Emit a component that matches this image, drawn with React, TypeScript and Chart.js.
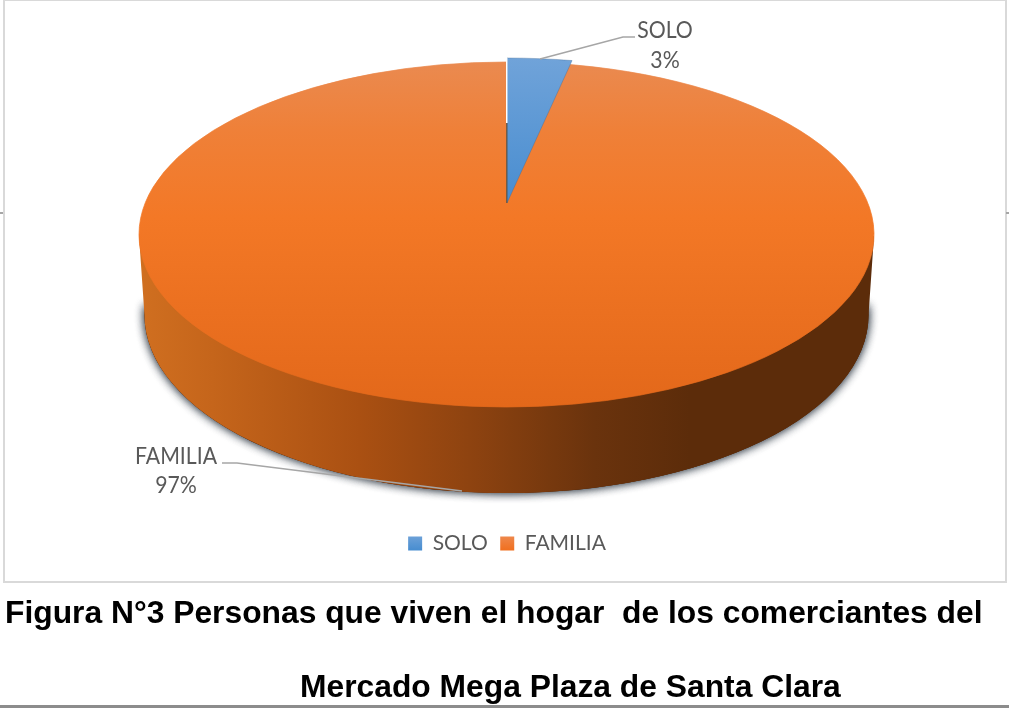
import React, { useEffect, useRef } from "react";
import { Chart, registerables } from "chart.js";

Chart.register(...registerables);

const categories = ["SOLO", "FAMILIA"];
const shares = [3, 97];
const baseColors = ["#5b9bd5", "#ed7d31"];
const titleLines = [
  "Figura N°3 Personas que viven el hogar  de los comerciantes del",
  "Mercado Mega Plaza de Santa Clara",
];

const FONT = "Lato, 'Noto Sans', sans-serif";
const TEXT = "#595959";
const R = 367.5;

const pieStage = {
  id: "pieStage",
  beforeDraw(chart: any) {
    const { ctx } = chart;
    ctx.save();
    ctx.strokeStyle = "#d9d9d9";
    ctx.lineWidth = 2;
    ctx.strokeRect(4, 0, 1002, 582);
    ctx.fillStyle = "#a6a6a6";
    ctx.fillRect(0, 212, 3, 2);
    ctx.fillRect(1006, 212, 3, 2);
    ctx.fillStyle = "#8c8c8c";
    ctx.fillRect(0, 705, 1009, 3);
    ctx.restore();
  },
  beforeDatasetsDraw(chart: any) {
    const { ctx } = chart;
    const meta = chart.getDatasetMeta(0);
    const [blue, orange] = meta.data;
    const ex = orange.x;
    const ey = orange.y;

    // Extruded side wall and its soft shadow
    ctx.save();
    const wallGrad = ctx.createLinearGradient(139, 0, 874, 0);
    wallGrad.addColorStop(0, "#d06f20");
    wallGrad.addColorStop(0.1, "#c5651b");
    wallGrad.addColorStop(0.3, "#aa5012");
    wallGrad.addColorStop(0.45, "#8e4310");
    wallGrad.addColorStop(0.62, "#6a330d");
    wallGrad.addColorStop(0.75, "#5c2c0a");
    wallGrad.addColorStop(1, "#5c2c0a");
    for (let i = 0; i < 2; i++) {
      ctx.save();
      ctx.shadowColor = "rgba(55,65,75,0.85)";
      ctx.shadowBlur = 10;
      ctx.fillStyle = "#5c2c0a";
      ctx.beginPath();
      ctx.ellipse(506.5, 315, 362, 178, 0, -0.05, Math.PI + 0.05);
      ctx.closePath();
      ctx.fill();
      ctx.restore();
    }
    ctx.fillStyle = wallGrad;
    ctx.beginPath();
    ctx.moveTo(874, 236);
    ctx.lineTo(868.5, 315);
    ctx.ellipse(506.5, 315, 362, 178, 0, 0, Math.PI);
    ctx.lineTo(139, 236);
    ctx.closePath();
    ctx.fill();
    ctx.restore();

    // Top face: every slice painted in the orange gradient, squashed to an ellipse
    const topGrad = ctx.createLinearGradient(0, ey - R, 0, ey + R);
    topGrad.addColorStop(0, "#ea8a50");
    topGrad.addColorStop(0.2, "#ef8038");
    topGrad.addColorStop(0.45, "#f37826");
    topGrad.addColorStop(1, "#e3681a");
    const paint = (el: any) => {
      el.$base = el.$base || el.options;
      el.options = { ...el.$base, backgroundColor: topGrad, borderColor: topGrad, borderWidth: 1 };
    };
    paint(blue);
    paint(orange);
    ctx.save();
    ctx.translate(506.5, 234.5);
    ctx.scale(1, 172.5 / R);
    ctx.translate(-ex, -ey);
    ctx.fillStyle = topGrad;
    ctx.beginPath();
    ctx.arc(ex, ey, R - 1, 0, Math.PI * 2);
    ctx.fill();
  },
  afterDatasetsDraw(chart: any) {
    const { ctx } = chart;
    ctx.restore();
    const meta = chart.getDatasetMeta(0);
    const [blue, orange] = meta.data;
    const ex = orange.x;
    const ey = orange.y;

    // The small slice, lifted towards the back of the pie
    const blueGrad = ctx.createLinearGradient(0, ey - R, 0, ey);
    blueGrad.addColorStop(0, "#70a3d9");
    blueGrad.addColorStop(1, "#488dd0");
    blue.options = {
      ...blue.$base,
      backgroundColor: blueGrad,
      borderColor: "rgba(60,105,150,0.55)",
      borderWidth: 1,
    };
    ctx.save();
    ctx.translate(507, 203);
    ctx.scale(0.945, 145 / R);
    ctx.translate(-ex, -ey);
    blue.draw(ctx, chart.chartArea);
    ctx.restore();

    ctx.save();
    ctx.fillStyle = "#ffffff";
    ctx.fillRect(506, 58, 1.5, 65);
    ctx.fillStyle = "rgba(95,85,70,0.8)";
    ctx.fillRect(506, 123, 1.5, 80);

    // Leader lines and data labels
    ctx.strokeStyle = "#a6a6a6";
    ctx.lineWidth = 1.5;
    ctx.beginPath();
    ctx.moveTo(540, 59);
    ctx.lineTo(623, 37);
    ctx.lineTo(635, 37);
    ctx.stroke();
    ctx.beginPath();
    ctx.moveTo(222, 463);
    ctx.lineTo(237, 463);
    ctx.lineTo(462, 491);
    ctx.stroke();

    ctx.fillStyle = TEXT;
    ctx.font = `24px ${FONT}`;
    ctx.textAlign = "center";
    ctx.textBaseline = "middle";
    const total = shares.reduce((a, b) => a + b, 0);
    const spots = [
      [665, 30, 60],
      [176, 456, 485],
    ];
    const put = (t: string, x: number, y: number) => {
      ctx.save();
      ctx.translate(x, y);
      ctx.scale(0.885, 1);
      ctx.fillText(t, 0, 0);
      ctx.restore();
    };
    categories.forEach((c, i) => {
      put(c, spots[i][0], spots[i][1]);
      put(`${Math.round((shares[i] / total) * 100)}%`, spots[i][0], spots[i][2]);
    });
    ctx.restore();
  },
};

const boxStyle = (p: number): React.CSSProperties => ({
  position: "absolute",
  whiteSpace: "pre",
  fontFamily: "'Liberation Sans', Arial, sans-serif",
  fontWeight: 700,
  fontSize: 31.8,
  lineHeight: "30px",
  color: "#000",
  top: p,
});

export default function App() {
  const ref = useRef<HTMLCanvasElement>(null);
  useEffect(() => {
    const canvas = ref.current!;
    const chart = new Chart(canvas, {
      type: "pie",
      data: {
        labels: categories,
        datasets: [{ data: shares, backgroundColor: baseColors, borderWidth: 0, radius: R }],
      },
      options: {
        responsive: false,
        animation: false,
        layout: { padding: { left: 5, right: 0, top: 0, bottom: 144 } },
        plugins: {
          tooltip: { enabled: false },
          legend: {
            display: true,
            position: "bottom",
            labels: {
              boxWidth: 14,
              boxHeight: 14,
              padding: 12.5,
              color: TEXT,
              font: { family: FONT, size: 21 },
              generateLabels(c: any) {
                const g = c.ctx;
                const pairs = [
                  ["#70a3d9", "#488dd0"],
                  ["#ee8a50", "#f07020"],
                ];
                return categories.map((text, i) => {
                  const grad = g.createLinearGradient(0, 535, 0, 550);
                  grad.addColorStop(0, pairs[i][0]);
                  grad.addColorStop(1, pairs[i][1]);
                  return {
                    text,
                    fillStyle: grad,
                    strokeStyle: "transparent",
                    lineWidth: 0,
                    fontColor: TEXT,
                    index: i,
                    hidden: false,
                  };
                });
              },
            },
          },
        },
      } as any,
      plugins: [pieStage],
    });
    return () => chart.destroy();
  }, []);

  return (
    <div
      style={{
        position: "fixed",
        left: 0,
        top: 0,
        width: 1009,
        height: 708,
        background: "#fff",
        overflow: "hidden",
      }}
    >
      <canvas ref={ref} width={1009} height={708} style={{ display: "block" }} />
      <div style={{ ...boxStyle(597), left: 5 }}>{titleLines[0]}</div>
      <div style={{ ...boxStyle(671), left: 300 }}>{titleLines[1]}</div>
    </div>
  );
}
